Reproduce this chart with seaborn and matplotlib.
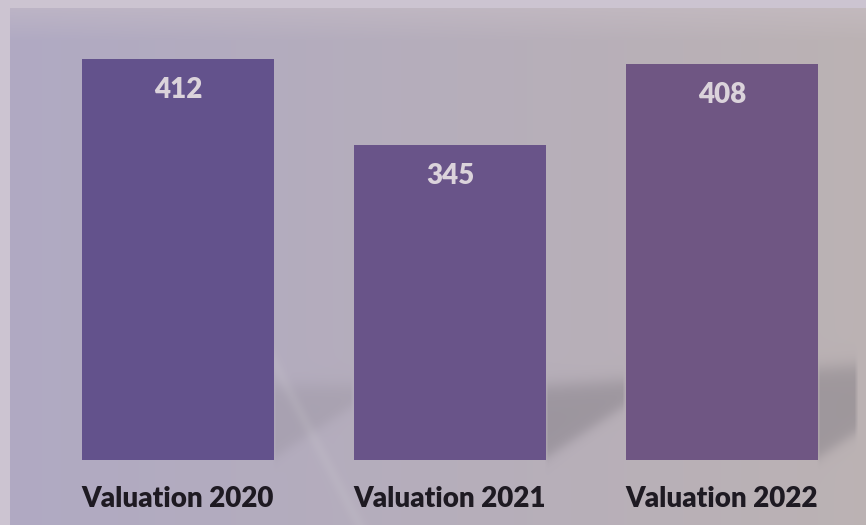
import numpy as np
import matplotlib
matplotlib.use("Agg")
import matplotlib.pyplot as plt
import seaborn as sns

# Chart data
categories = ["Valuation 2020", "Valuation 2021", "Valuation 2022"]
values = [412, 345, 408]
bar_colors = ["#63528c", "#695489", "#6f5683"]

sns.set_theme(style="white")
plt.rcParams["font.family"] = ["Lato", "DejaVu Sans"]

W, H = 866, 525
fig = plt.figure(figsize=(W / 100, H / 100), dpi=100)

# Soft lavender-to-warm-gray backdrop
yy, xx = np.mgrid[0:H, 0:W].astype(float)
t = xx / W
left = np.array([0.690, 0.665, 0.765])
right = np.array([0.735, 0.700, 0.705])
bg = left[None, None, :] * (1 - t[..., None]) + right[None, None, :] * t[..., None]

# lighter strip across the top of the panel
top = np.clip((40 - yy) / 40, 0, 1)[..., None]
bg = bg * (1 - 0.55 * top) + np.array([0.80, 0.76, 0.79]) * 0.55 * top

# floor shadows cast to the right of each column: soft top edge, slanted bottom edge
upper_y = 385 - 0.065 * np.clip(xx - 550, 0, None)
upper = 1 / (1 + np.exp(-(yy - upper_y) / 5))
shadow = np.zeros_like(xx)
for x_start, x_end, strength in [(274, 354, 0.45), (546, 626, 1.0), (818, 858, 1.0)]:
    lower_y = 457 - 0.66 * (xx - x_start)
    lower = 1 / (1 + np.exp((yy - lower_y) / 4))
    inside = np.clip((xx - x_start + 2) / 4, 0, 1) * np.clip((x_end - xx) / 4, 0, 1)
    shadow = np.maximum(shadow, strength * upper * lower * inside)
shadow = shadow[..., None]
bg = bg * (1 - 0.42 * shadow) + np.array([0.47, 0.45, 0.48]) * 0.42 * shadow

# faint light streak running diagonally across the lower left
d = np.abs((yy - 260) - 1.9 * (xx - 220)) / np.sqrt(1 + 1.9 ** 2)
streak = (np.exp(-(d / 6) ** 2) * (yy > 250))[..., None]
bg = bg * (1 - 0.12 * streak) + 0.85 * 0.12 * streak

# pale outer margin
margin = ((xx < 10) | (yy < 8))[..., None]
bg = np.where(margin, np.array([0.80, 0.77, 0.82]), bg)

bg_ax = fig.add_axes([0, 0, 1, 1])
bg_ax.imshow(np.clip(bg, 0, 1), extent=[0, W, H, 0], aspect="auto", interpolation="bilinear")
bg_ax.axis("off")

# Bar axes
ax = fig.add_axes([0, (H - 460) / H, 1, 450 / H])
ax.patch.set_alpha(0)
sns.barplot(x=categories, y=values, hue=categories, palette=bar_colors,
            width=192 / 272, legend=False, ax=ax, saturation=1, linewidth=0)
ax.set_xlim(-178 / 272, 2 + 144 / 272)
ax.set_ylim(100, 450)

for i, v in enumerate(values):
    ax.annotate(f"{v}", xy=(i, v), xytext=(0, -22.5), textcoords="offset points",
                ha="center", va="center", fontsize=20, fontweight=800, color="#dbd3db")

ax.set_yticks([])
ax.set_xticks(range(len(categories)))
ax.set_xticklabels(categories, fontsize=20, fontweight=800, color="#1e1a22")
ax.tick_params(axis="x", length=0, pad=19)
ax.set_xlabel("")
ax.set_ylabel("")
sns.despine(ax=ax, left=True, bottom=True)

fig.savefig("out.png", dpi=100)
